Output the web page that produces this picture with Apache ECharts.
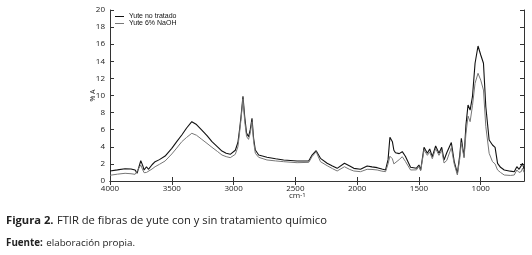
<!DOCTYPE html>
<html>
<head>
<meta charset="utf-8">
<script src="https://cdn.jsdelivr.net/npm/echarts@6/dist/echarts.min.js"></script>
<style>
  html, body { margin: 0; padding: 0; background: #fff; }
  #chart { width: 532px; height: 255px; }
</style>
</head>
<body>
<div id="chart"></div>
<script>
// numero de onda (cm-1)
const wavenumbers = [
  4000, 3940, 3878, 3830, 3797, 3781, 3751, 3735, 3724, 3705, 3689, 3660, 3635, 3600,
  3554, 3500, 3460, 3419, 3380, 3338, 3300, 3257, 3215, 3175, 3130, 3094, 3060, 3027,
  2986, 2965, 2952, 2940, 2924, 2910, 2895, 2879, 2865, 2851, 2838, 2824, 2797, 2730,
  2660, 2595, 2486, 2392, 2365, 2332, 2297, 2243, 2200, 2162, 2103, 2060, 2027, 1973,
  1919, 1880, 1838, 1800, 1770, 1750, 1735, 1715, 1703, 1690, 1660, 1635, 1610, 1568,
  1520, 1500, 1486, 1459, 1432, 1413, 1392, 1365, 1338, 1316, 1297, 1275, 1238, 1215,
  1189, 1170, 1157, 1135, 1120, 1103, 1086, 1067, 1046, 1022, 1000, 978, 959, 932,
  905, 884, 864, 840, 810, 760, 729, 708, 690, 672, 662, 650
];
// Yute no tratado
const noTratado = [
  1.17, 1.3, 1.44, 1.4, 1.29, 0.9, 2.37, 1.8, 1.29, 1.67, 1.37, 1.9, 2.26, 2.5,
  2.92, 3.82, 4.6, 5.38, 6.2, 6.94, 6.6, 5.96, 5.3, 4.6, 4.0, 3.5, 3.25, 3.12,
  3.6, 4.5, 5.96, 7.5, 9.9, 7.5, 5.6, 5.18, 6.0, 7.33, 5.0, 3.63, 3.04, 2.77,
  2.6, 2.46, 2.34, 2.34, 3.04, 3.55, 2.65, 2.07, 1.75, 1.48, 2.07, 1.75, 1.48, 1.37,
  1.75, 1.65, 1.56, 1.4, 1.29, 2.5, 5.11, 4.6, 3.6, 3.31, 3.2, 3.43, 2.9, 1.6,
  1.5, 1.87, 1.29, 3.94, 3.24, 3.74, 2.84, 4.09, 3.24, 3.94, 2.46, 3.3, 4.5, 2.3,
  0.9, 3.0, 5.0, 2.84, 6.5, 8.89, 8.3, 9.86, 13.77, 15.79, 14.74, 13.77, 8.69, 4.8,
  4.21, 3.94, 2.07, 1.6, 1.29, 1.15, 1.09, 1.67, 1.37, 1.8, 2.07, 1.4
];
// Yute 6% NaOH
const naoh = [
  0.67, 0.8, 0.9, 0.85, 0.78, 0.58, 1.87, 1.3, 0.97, 1.0, 1.1, 1.4, 1.67, 1.95,
  2.34, 3.16, 3.85, 4.6, 5.1, 5.58, 5.35, 4.87, 4.4, 3.94, 3.45, 3.04, 2.85, 2.73,
  3.12, 4.0, 5.6, 7.2, 9.6, 7.0, 5.2, 4.87, 5.6, 6.94, 4.6, 3.24, 2.77, 2.46,
  2.35, 2.26, 2.14, 2.18, 2.84, 3.43, 2.26, 1.79, 1.45, 1.17, 1.67, 1.35, 1.17, 1.09,
  1.37, 1.35, 1.29, 1.15, 1.09, 2.0, 2.9, 2.6, 2.0, 2.1, 2.5, 2.84, 2.3, 1.29,
  1.3, 1.7, 1.2, 3.63, 3.0, 3.4, 2.6, 3.8, 3.0, 3.6, 2.1, 2.4, 3.9, 2.0,
  0.7, 2.6, 4.5, 2.7, 5.5, 7.6, 6.94, 8.8, 11.43, 12.6, 11.8, 10.64, 6.35, 3.24,
  2.26, 2.0, 1.29, 1.0, 0.7, 0.65, 0.7, 1.29, 1.0, 1.1, 1.5, 1.0
];
const xTicks = [4000, 3500, 3000, 2500, 2000, 1500, 1000];

const chart = echarts.init(document.getElementById("chart"));

const axisFont = { fontFamily: "Open Sans", fontSize: 8, color: "#222" };
const lineCol = "#333";

const xBase = {
  type: "value",
  min: 650,
  max: 4000,
  inverse: true,
  axisLine: { lineStyle: { color: lineCol, width: 1 } },
  splitLine: { show: false },
};

chart.setOption({
  animation: false,
  grid: { left: 110, right: 8, top: 10, bottom: 74 },
  legend: {
    data: ["Yute no tratado", "Yute 6% NaOH"],
    orient: "vertical",
    left: 115,
    top: 13,
    padding: 0,
    itemGap: 0,
    itemWidth: 9,
    itemHeight: 1,
    icon: "rect",
    textStyle: { fontFamily: "Liberation Sans", fontSize: 7, color: "#111", lineHeight: 7 },
  },
  xAxis: [
    Object.assign({}, xBase, {
      position: "bottom",
      axisTick: { inside: true, length: 4, customValues: xTicks, lineStyle: { color: lineCol } },
      axisLabel: Object.assign({ customValues: xTicks, margin: 4, formatter: (v) => String(v) }, axisFont),
    }),
    Object.assign({}, xBase, {
      position: "top",
      axisTick: { inside: true, length: 4, customValues: xTicks, lineStyle: { color: lineCol } },
      axisLabel: { show: false },
    }),
  ],
  yAxis: [
    {
      type: "value",
      min: 0,
      max: 20,
      interval: 2,
      name: "% A",
      nameLocation: "middle",
      nameRotate: 90,
      nameGap: 14,
      nameMoveOverlap: false,
      nameTextStyle: { fontFamily: "Open Sans", fontSize: 7, color: "#222" },
      axisLine: { show: true, lineStyle: { color: lineCol } },
      axisTick: { show: true, inside: true, length: 4, lineStyle: { color: lineCol } },
      axisLabel: Object.assign({ margin: 5 }, axisFont),
      splitLine: { show: false },
    },
    {
      type: "value",
      min: 0,
      max: 20,
      interval: 2,
      position: "right",
      axisLine: { show: true, lineStyle: { color: lineCol } },
      axisTick: { show: true, inside: true, length: 4, lineStyle: { color: lineCol } },
      axisLabel: { show: false },
      splitLine: { show: false },
    },
  ],
  series: [
    {
      name: "Yute no tratado",
      type: "line",
      symbol: "none",
      color: "#111",
      lineStyle: { width: 1.1, color: "#111" },
      data: wavenumbers.map((w, i) => [w, noTratado[i]]),
    },
    {
      name: "Yute 6% NaOH",
      type: "line",
      symbol: "none",
      color: "#777",
      lineStyle: { width: 1, color: "#777" },
      data: wavenumbers.map((w, i) => [w, naoh[i]]),
    },
  ],
  graphic: [
    {
      type: "text",
      left: 289,
      top: 192,
      style: {
        text: "{a|cm}{b|-1}",
        rich: {
          a: { fontFamily: "Open Sans", fontSize: 8, fill: "#222" },
          b: { fontFamily: "Open Sans", fontSize: 6, fill: "#222", verticalAlign: "top" },
        },
      },
    },
    {
      type: "text",
      left: 6,
      top: 215,
      style: {
        text: "{b|Figura 2.} {n|FTIR de fibras de yute con y sin tratamiento químico}",
        rich: {
          b: { fontFamily: "Open Sans", fontSize: 11.2, fontWeight: "bold", fill: "#222" },
          n: { fontFamily: "Open Sans", fontSize: 11.2, fill: "#222" },
        },
      },
    },
    {
      type: "text",
      left: 6,
      top: 237,
      style: {
        text: "{b|Fuente:} {n|elaboración propia.}",
        rich: {
          b: { fontFamily: "Open Sans", fontSize: 9.8, fontWeight: "bold", fill: "#222" },
          n: { fontFamily: "Open Sans", fontSize: 9.8, fill: "#222" },
        },
      },
    },
  ],
});

window.addEventListener("resize", () => chart.resize());
</script>
</body>
</html>
